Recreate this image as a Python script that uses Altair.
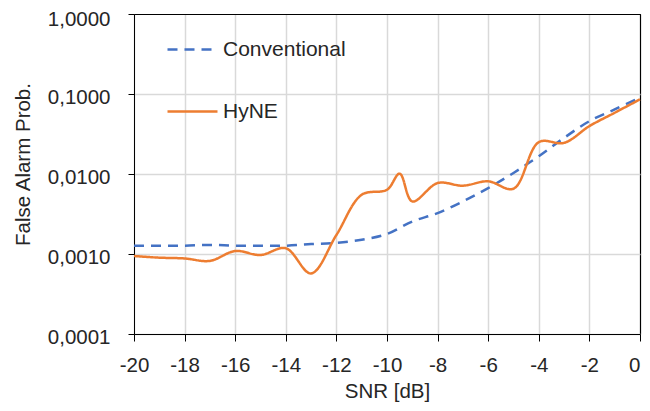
import altair as alt
import pandas as pd

conv_x = [-20, -19, -18, -17, -16, -15, -14, -13, -12, -11, -10, -9, -8, -7, -6, -5, -4, -3, -2, -1, 0]
conv_y = [0.00127, 0.00127, 0.00127, 0.00130, 0.00127, 0.00127, 0.00127, 0.00133, 0.00138, 0.00151,
          0.00178, 0.00255, 0.00324, 0.00454, 0.00667, 0.0103, 0.0167, 0.0283, 0.0458, 0.0642, 0.090]

hyne_x = [-20, -19, -18, -17, -16, -15, -14, -13, -12, -11, -10, -9.5, -9, -8, -7, -6, -5, -4, -3, -2, -1, 0]
hyne_y = [0.000944, 0.00090, 0.00088, 0.00082, 0.00109, 0.00097, 0.00118, 0.000572, 0.00173, 0.0055,
          0.00636, 0.0101, 0.00454, 0.0077, 0.00714, 0.0081, 0.00655, 0.0250, 0.0245, 0.0397, 0.0583, 0.0857]

series = ["Conventional", "HyNE"]
x_ticks = list(range(-20, 1, 2))
y_ticks = [0.0001, 0.001, 0.01, 0.1, 1.0]

df = pd.concat([
    pd.DataFrame({"snr": conv_x, "p": conv_y, "s": series[0]}),
    pd.DataFrame({"snr": hyne_x, "p": hyne_y, "s": series[1]}),
])

FONT = "Liberation Sans"
TXT = "#262626"

legend_opts = dict(title=None, orient="none", legendX=32, legendY=9,
                   symbolType="stroke", symbolSize=2500, symbolStrokeWidth=2.5,
                   labelFontSize=21, labelFont=FONT, labelColor=TXT,
                   labelOffset=4, rowPadding=25)

x_grid_color = {"condition": {"test": "datum.value === 0", "value": "black"}, "value": "#D9D9D9"}
x_grid_width = {"condition": {"test": "datum.value === 0", "value": 1.2}, "value": 1.5}
y_grid_color = {"condition": {"test": "datum.value === 1", "value": "black"}, "value": "#D9D9D9"}
y_grid_width = {"condition": {"test": "datum.value === 1", "value": 1.2}, "value": 1.5}
x_label_align = {"condition": {"test": "datum.value === 0", "value": "right"}, "value": "center"}
y_label_offset = {"condition": {"test": "datum.value === 1", "value": 5}, "value": 3}

chart = alt.Chart(df).mark_line(interpolate="catmull-rom", strokeWidth=2.5).encode(
    x=alt.X("snr:Q", scale=alt.Scale(domain=[-20, 0], nice=False),
            axis=alt.Axis(title="SNR [dB]", values=x_ticks, grid=True, labelFlush=False,
                          labelAlign=x_label_align,
                          gridColor=x_grid_color, gridWidth=x_grid_width, domainColor="black",
                          tickColor="black", tickSize=7, labelPadding=14, labelFontSize=20.5,
                          labelColor=TXT, labelExpr="'' + datum.value",
                          titleFontSize=20.5, titleFontWeight="normal",
                          titleColor=TXT, titlePadding=6, labelFont=FONT, titleFont=FONT)),
    y=alt.Y("p:Q", scale=alt.Scale(type="log", domain=[0.0001, 1], nice=False),
            axis=alt.Axis(title="False Alarm Prob.", values=y_ticks, grid=True, labelFlush=False,
                          gridColor=y_grid_color, gridWidth=y_grid_width, domainColor="black",
                          tickColor="black", tickSize=6, labelPadding=18, labelFontSize=20.5,
                          labelColor=TXT, labelOffset=y_label_offset,
                          labelExpr="replace(format(datum.value, '.4f'), '.', ',')",
                          titleFontSize=20.5, titleFontWeight="normal", titleColor=TXT,
                          titleX=-101, titleY=150,
                          labelFont=FONT, titleFont=FONT)),
    color=alt.Color("s:N", scale=alt.Scale(domain=series, range=["#4472C4", "#ED7D31"]),
                    legend=alt.Legend(**legend_opts)),
    strokeDash=alt.StrokeDash("s:N", scale=alt.Scale(domain=series, range=[[10, 7], [1, 0]]),
                              legend=alt.Legend(**legend_opts)),
).properties(
    width=506, height=320,
    padding={"left": 126, "top": 6, "right": 2, "bottom": 69},
    autosize=alt.AutoSizeParams(type="none"),
    background="white",
).configure_view(stroke="black", strokeWidth=1)

chart.save("out.html", embed_options={"renderer": "svg", "actions": False})
